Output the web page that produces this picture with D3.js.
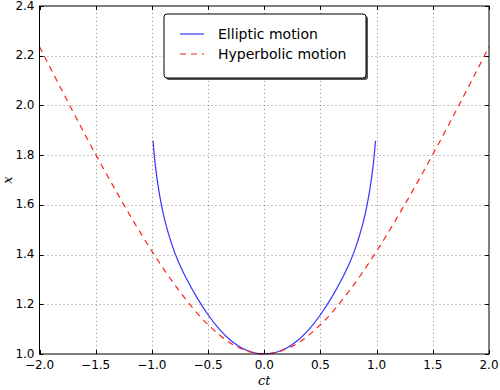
<!DOCTYPE html>
<html>
<head>
<meta charset="utf-8">
<script src="https://cdn.jsdelivr.net/npm/d3@7"></script>
<style>
  body { margin: 0; background: #fff; }
  svg text { font-family: "DejaVu Sans", sans-serif; }
</style>
</head>
<body>
<div id="chart"></div>
<script>
// Data
const ellipticCt = [-0.99, -0.97, -0.94, -0.9, -0.85, -0.8, -0.75, -0.7, -0.6, -0.5, -0.4, -0.3, -0.2, -0.1, 0,
                    0.1, 0.2, 0.3, 0.4, 0.5, 0.6, 0.7, 0.75, 0.8, 0.85, 0.9, 0.94, 0.97, 0.99];
const ellipticX = [1.858, 1.762, 1.663, 1.567, 1.48, 1.412, 1.357, 1.31, 1.228, 1.158, 1.10, 1.055, 1.024, 1.006, 1.0,
                   1.006, 1.024, 1.055, 1.10, 1.158, 1.228, 1.31, 1.357, 1.412, 1.48, 1.567, 1.663, 1.762, 1.858];
const hyperCt = [-2, -1.75, -1.5, -1.25, -1, -0.75, -0.5, -0.25, 0, 0.25, 0.5, 0.75, 1, 1.25, 1.5, 1.75, 2];
const hyperX = [2.236, 2.016, 1.803, 1.601, 1.414, 1.25, 1.118, 1.031, 1.0, 1.031, 1.118, 1.25, 1.414, 1.601, 1.803, 2.016, 2.236];
const xTicks = [-2.0, -1.5, -1.0, -0.5, 0.0, 0.5, 1.0, 1.5, 2.0];
const yTicks = [1.0, 1.2, 1.4, 1.6, 1.8, 2.0, 2.2, 2.4];
const seriesNames = ["Elliptic motion", "Hyperbolic motion"];

const width = 500, height = 390;
const margin = { left: 39.5, right: 11, top: 6, bottom: 36 };

const svg = d3.select("#chart").append("svg")
  .attr("width", width)
  .attr("height", height);

const x = d3.scaleLinear().domain([-2, 2]).range([margin.left, width - margin.right]);
const y = d3.scaleLinear().domain([1.0, 2.4]).range([height - margin.bottom, margin.top]);

const fmt = d3.format(".1f");
const minus = s => s.replace("-", "\u2212");

// grid
const grid = svg.append("g").attr("stroke", "#000").attr("stroke-opacity", 0.45)
  .attr("stroke-width", 1).attr("stroke-dasharray", "1,3");
grid.selectAll(".gx").data(xTicks.slice(1, -1)).enter().append("line")
  .attr("x1", d => Math.round(x(d)) + 0.5).attr("x2", d => Math.round(x(d)) + 0.5)
  .attr("y1", y(1.0)).attr("y2", y(2.4));
grid.selectAll(".gy").data(yTicks.slice(1, -1)).enter().append("line")
  .attr("y1", d => Math.round(y(d)) + 0.5).attr("y2", d => Math.round(y(d)) + 0.5)
  .attr("x1", x(-2)).attr("x2", x(2));

// curves
const ell = ellipticCt.map((c, i) => [c, ellipticX[i]]);
const hyp = hyperCt.map((c, i) => [c, hyperX[i]]);
const line = d3.line().x(d => x(d[0])).y(d => y(d[1])).curve(d3.curveCatmullRom.alpha(0.5));

svg.append("path").datum(ell).attr("d", line)
  .attr("fill", "none").attr("stroke", "#3333ff").attr("stroke-width", 1.2);
svg.append("path").datum(hyp).attr("d", line)
  .attr("fill", "none").attr("stroke", "#ff2020").attr("stroke-width", 1.2)
  .attr("stroke-dasharray", "6,5");

// frame
svg.append("rect")
  .attr("x", x(-2)).attr("y", y(2.4))
  .attr("width", x(2) - x(-2)).attr("height", y(1.0) - y(2.4))
  .attr("fill", "none").attr("stroke", "#000").attr("stroke-width", 1);

// ticks (inside, all sides)
const ticks = svg.append("g").attr("stroke", "#000").attr("stroke-width", 1);
xTicks.forEach(t => {
  const px = Math.round(x(t)) + 0.5;
  ticks.append("line").attr("x1", px).attr("x2", px).attr("y1", y(1.0)).attr("y2", y(1.0) - 4);
  ticks.append("line").attr("x1", px).attr("x2", px).attr("y1", y(2.4)).attr("y2", y(2.4) + 4);
});
yTicks.forEach(t => {
  const py = Math.round(y(t)) + 0.5;
  ticks.append("line").attr("y1", py).attr("y2", py).attr("x1", x(-2)).attr("x2", x(-2) + 4);
  ticks.append("line").attr("y1", py).attr("y2", py).attr("x1", x(2)).attr("x2", x(2) - 4);
});

// tick labels
svg.selectAll(".xl").data(xTicks).enter().append("text")
  .attr("x", d => x(d)).attr("y", y(1.0) + 15)
  .attr("text-anchor", "middle").attr("font-size", 12).attr("fill", "#000")
  .text(d => minus(fmt(d)));
svg.selectAll(".yl").data(yTicks).enter().append("text")
  .attr("x", x(-2) - 5).attr("y", d => y(d) + 3.5)
  .attr("text-anchor", "end").attr("font-size", 12).attr("fill", "#000")
  .text(d => fmt(d));

// axis labels
svg.append("text")
  .attr("x", (x(-2) + x(2)) / 2).attr("y", 385)
  .attr("text-anchor", "middle").attr("font-size", 13).attr("font-style", "italic")
  .style("font-family", "'DejaVu Serif', serif")
  .text("ct");
svg.append("text")
  .attr("transform", `translate(12,${(y(1.0) + y(2.4)) / 2}) rotate(-90)`)
  .attr("text-anchor", "middle").attr("font-size", 13).attr("font-style", "italic")
  .style("font-family", "'DejaVu Serif', serif")
  .text("x");

// legend
const lg = svg.append("g").attr("transform", "translate(164,14)");
lg.append("rect").attr("x", 2).attr("y", 2).attr("width", 202).attr("height", 64)
  .attr("rx", 3).attr("fill", "#555");
lg.append("rect").attr("width", 202).attr("height", 64).attr("rx", 3)
  .attr("fill", "#fff").attr("stroke", "#000").attr("stroke-width", 1);
const lgColors = ["#3333ff", "#ff2020"];
const lgDash = [null, "6,5"];
seriesNames.forEach((name, i) => {
  const yy = 20 + i * 20;
  lg.append("line").attr("x1", 16).attr("x2", 40).attr("y1", yy).attr("y2", yy)
    .attr("stroke", lgColors[i]).attr("stroke-width", 1.2)
    .attr("stroke-dasharray", lgDash[i]);
  lg.append("text").attr("x", 54).attr("y", yy + 5).attr("font-size", 14)
    .attr("fill", "#000").text(name);
});
</script>
</body>
</html>
